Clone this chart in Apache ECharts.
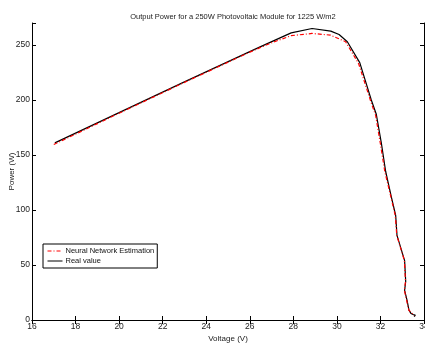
<!DOCTYPE html>
<html>
<head>
<meta charset="utf-8">
<script src="https://cdn.jsdelivr.net/npm/echarts@6/dist/echarts.min.js"></script>
<style>
  html, body { margin: 0; padding: 0; background: #fff; }
  #chart { width: 425px; height: 350px; }
</style>
</head>
<body>
<div id="chart"></div>
<script>
// measured points, real module curve
const realVoltage = [17.05, 20, 23, 26, 26.5, 27.9, 28.86, 29.72, 30.1, 30.48, 31.05, 31.58, 31.81, 32.04, 32.24, 32.5, 32.7, 32.76, 33.11, 33.16, 33.11, 33.22, 33.31, 33.4, 33.5, 33.45, 33.6, 33.55, 33.65];
const realPower = [161, 188.5, 216.5, 244, 248.5, 261, 265, 262.6, 259.5, 253, 234, 200, 187, 161, 135, 112, 95, 77, 54, 35, 27, 18, 9, 6, 5, 4, 4.5, 3, 4];

// neural network estimate
const nnVoltage = [17.0, 20, 23, 26, 27, 27.9, 28.86, 29.7, 30.4, 31.0, 31.55, 31.78, 32.0, 32.2, 32.48, 32.68, 32.75, 33.1, 33.15, 33.1, 33.2, 33.3, 33.45, 33.55];
const nnPower = [159.5, 188, 216, 243.5, 252, 258.5, 260.5, 259, 253, 233, 199, 186, 160, 135, 112, 95, 77, 54, 35, 27, 18, 9, 6, 4];

const xTicks = { min: 16, max: 34, interval: 2 };
const yTicks = { min: 0, max: 270, interval: 50 };

const font = "'Liberation Sans Narrow', 'Liberation Sans', Arial, sans-serif";

const chart = echarts.init(document.getElementById("chart"));

const axisLine = { show: true, lineStyle: { color: "#000", width: 1 } };
const axisTick = { show: true, inside: true, length: 4, lineStyle: { color: "#000" } };

chart.setOption({
  animation: false,
  title: {
    text: "Output Power for a 250W Photovoltaic Module for 1225 W/m2",
    left: 228,
    textAlign: "center",
    top: 8,
    textStyle: { fontFamily: font, fontSize: 7.5, fontWeight: "normal", color: "#222" },
  },
  legend: {
    orient: "vertical",
    left: 43,
    top: 244,
    padding: [3, 3, 3, 4],
    itemGap: 2,
    itemWidth: 15,
    itemHeight: 8,
    borderColor: "#000",
    borderWidth: 1,
    itemStyle: { opacity: 0 },
    lineStyle: { width: 1 },
    textStyle: { fontFamily: font, fontSize: 7.5, color: "#111", padding: [0, 0, 0, -2] },
    data: ["Neural Network Estimation", "Real value"],
  },
  grid: { left: 32, right: 1, top: 23, bottom: 30, containLabel: false, outerBoundsMode: "none" },
  xAxis: [
    {
      type: "value",
      ...xTicks,
      name: "Voltage (V)",
      nameLocation: "middle",
      nameGap: 15,
      nameMoveOverlap: false,
      nameTextStyle: { fontFamily: font, fontSize: 8, color: "#222" },
      axisLine,
      axisTick,
      splitLine: { show: false },
      axisLabel: { fontFamily: font, fontSize: 8.5, color: "#222", margin: 2 },
    },
    {
      type: "value",
      ...xTicks,
      position: "top",
      axisLine,
      axisTick,
      splitLine: { show: false },
      axisLabel: { show: false },
    },
  ],
  yAxis: [
    {
      type: "value",
      ...yTicks,
      name: "Power (W)",
      nameLocation: "middle",
      nameGap: 16,
      nameMoveOverlap: false,
      nameTextStyle: { fontFamily: font, fontSize: 8, color: "#222" },
      axisLine,
      axisTick,
      splitLine: { show: false },
      axisLabel: {
        fontFamily: font,
        fontSize: 8.5,
        color: "#222",
        margin: 2,
        formatter: (v) => (v % 50 === 0 ? String(v) : ""),
      },
    },
    {
      type: "value",
      ...yTicks,
      position: "right",
      axisLine,
      axisTick,
      splitLine: { show: false },
      axisLabel: { show: false },
    },
  ],
  series: [
    {
      name: "Neural Network Estimation",
      type: "line",
      symbol: "none",
      data: nnVoltage.map((v, i) => [v, nnPower[i]]),
      lineStyle: { color: "#ff0000", width: 1.2, type: [4, 2, 1, 2] },
      itemStyle: { color: "#ff0000" },
      z: 3,
    },
    {
      name: "Real value",
      type: "line",
      symbol: "none",
      data: realVoltage.map((v, i) => [v, realPower[i]]),
      lineStyle: { color: "#000", width: 1.2 },
      itemStyle: { color: "#000" },
      z: 2,
    },
  ],
});
</script>
</body>
</html>
